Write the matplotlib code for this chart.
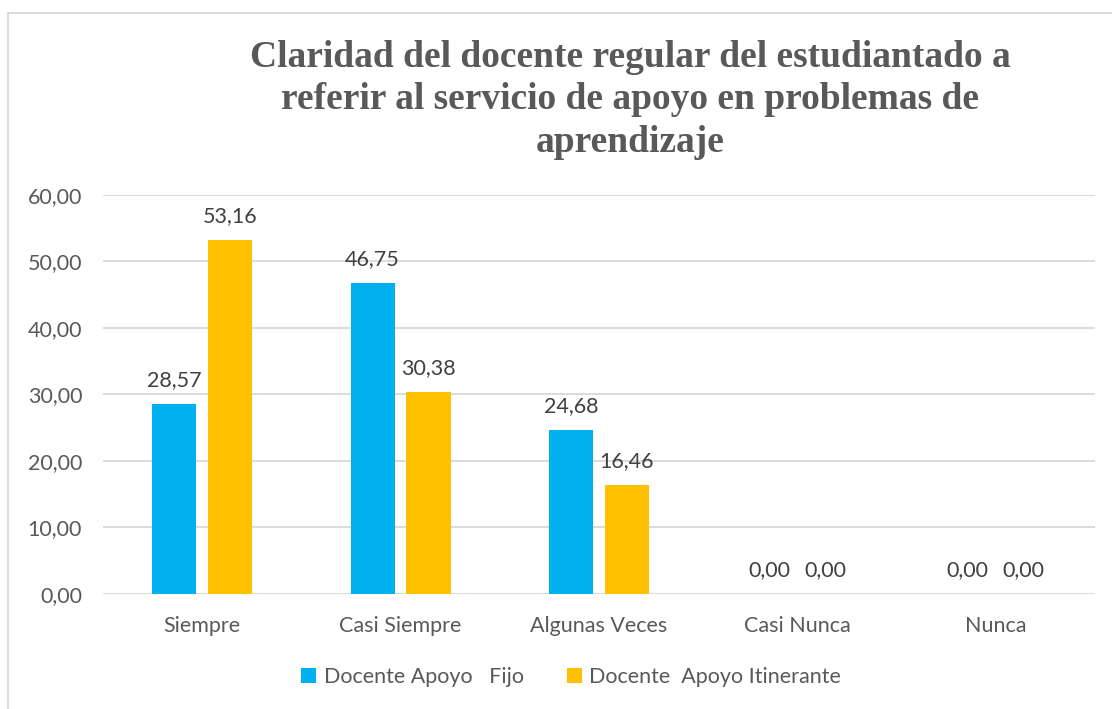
import matplotlib.pyplot as plt
from matplotlib.lines import Line2D
import numpy as np

# datos del grafico
categorias = ['Siempre', 'Casi Siempre', 'Algunas Veces', 'Casi Nunca', 'Nunca']
fijo = [28.57, 46.75, 24.68, 0.00, 0.00]
itinerante = [53.16, 30.38, 16.46, 0.00, 0.00]
series = ['Docente Apoyo   Fijo', 'Docente  Apoyo Itinerante']
yticks = [0, 10, 20, 30, 40, 50, 60]

azul = '#00B0F0'
naranja = '#FFC000'
gris = '#595959'
fuente = ['Lato', 'DejaVu Sans']
tam = 15.5


def coma(v):
    return f'{v:.2f}'.replace('.', ',')


fig = plt.figure(figsize=(11.12, 7.09), dpi=100)
ax = fig.add_axes([0.0926, 0.1622, 0.892, 0.5628])

x = np.arange(len(categorias))
ancho = 0.222
sep = 0.141
b1 = ax.bar(x - sep, fijo, ancho, color=azul, label=series[0])
b2 = ax.bar(x + sep, itinerante, ancho, color=naranja, label=series[1])

for barras in (b1, b2):
    for r in barras:
        h = r.get_height()
        ax.annotate(coma(h), (r.get_x() + r.get_width() / 2, h),
                    xytext=(0, 10), textcoords='offset points',
                    ha='center', va='bottom', fontsize=tam,
                    color='#404040', family=fuente)

ax.set_xlim(-0.5, len(categorias) - 0.5)
ax.set_ylim(0, 60)
ax.set_yticks(yticks)
ax.set_yticklabels([coma(v) for v in yticks])
ax.set_xticks(x)
ax.set_xticklabels(categorias)
ax.tick_params(length=0, labelsize=tam, labelcolor=gris)
ax.tick_params(axis='y', pad=15)
ax.tick_params(axis='x', pad=16)
for t in ax.get_xticklabels() + ax.get_yticklabels():
    t.set_family(fuente)

ax.yaxis.grid(True, color='#d9d9d9', linewidth=1.3)
ax.set_axisbelow(True)
for s in ax.spines.values():
    s.set_visible(False)

fig.text(0.5665, 0.859,
         'Claridad del docente regular del estudiantado a\n'
         'referir al servicio de apoyo en problemas de\n'
         'aprendizaje',
         ha='center', va='center', fontsize=27, fontweight='bold',
         color=gris, family='Liberation Serif', linespacing=1.27)

leg = fig.legend(loc='center', bbox_to_anchor=(571 / 1112, 1 - 677 / 709),
                 ncol=2, frameon=False, handlelength=0.7,
                 handleheight=0.7, columnspacing=2.0, handletextpad=0.35,
                 prop={'family': fuente, 'size': tam})
for t in leg.get_texts():
    t.set_color(gris)

# borde del area del grafico
fig.add_artist(Line2D([8 / 1112, 8 / 1112], [0, 1 - 13 / 709],
                      transform=fig.transFigure, color='#d9d9d9', lw=1.3))
fig.add_artist(Line2D([8 / 1112, 1], [1 - 13 / 709, 1 - 13 / 709],
                      transform=fig.transFigure, color='#d9d9d9', lw=1.3))

fig.savefig('out.png', dpi=100)
